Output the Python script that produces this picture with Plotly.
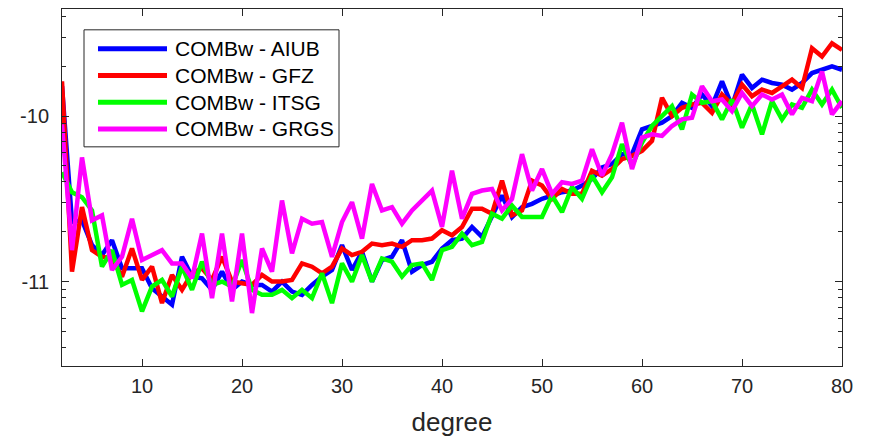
import plotly.graph_objects as go

degree = list(range(2, 81))

# log10 of the plotted quantity (tick labels are exponents)
aiub = [-9.82, -10.64, -10.63, -10.78, -10.84, -10.75, -10.92, -10.92, -10.92, -11.04,
        -11.09, -11.14, -10.85, -10.97, -10.98, -11.05, -10.94, -11.05, -11.00, -11.02,
        -11.02, -11.06, -11.00, -11.06, -11.08, -11.02, -10.97, -10.93, -10.78, -10.93,
        -10.82, -11.00, -10.87, -10.85, -10.75, -10.94, -10.90, -10.88, -10.80, -10.75,
        -10.74, -10.67, -10.73, -10.60, -10.48, -10.61, -10.55, -10.53, -10.50, -10.48,
        -10.46, -10.45, -10.42, -10.38, -10.31, -10.29, -10.23, -10.23, -10.08, -10.06,
        -10.04, -10.00, -9.92, -9.95, -9.87, -9.94, -9.79, -9.94, -9.75, -9.83,
        -9.78, -9.80, -9.81, -9.84, -9.80, -9.74, -9.72, -9.70, -9.72]

gfz = [-9.79, -10.94, -10.55, -10.81, -10.85, -10.86, -10.97, -10.80, -10.99, -10.91,
       -11.13, -10.96, -11.05, -10.95, -10.92, -10.99, -10.85, -11.00, -11.01, -11.02,
       -10.96, -11.00, -11.00, -10.99, -10.89, -10.91, -10.95, -10.91, -10.80, -10.84,
       -10.82, -10.77, -10.78, -10.77, -10.79, -10.75, -10.75, -10.74, -10.69, -10.72,
       -10.67, -10.56, -10.56, -10.59, -10.39, -10.60, -10.57, -10.39, -10.42, -10.50,
       -10.44, -10.47, -10.47, -10.33, -10.36, -10.32, -10.26, -10.24, -10.21, -10.15,
       -9.89, -10.00, -9.95, -9.93, -9.92, -9.98, -9.87, -9.93, -9.81, -9.88,
       -9.84, -9.86, -9.82, -9.78, -9.83, -9.59, -9.64, -9.56, -9.60]

itsg = [-10.34, -10.46, -10.49, -10.57, -10.91, -10.81, -11.02, -10.99, -11.18, -11.03,
        -10.99, -11.09, -10.91, -11.05, -10.88, -11.02, -11.00, -11.03, -10.87, -11.05,
        -11.08, -11.08, -11.05, -11.10, -11.05, -11.10, -10.95, -11.13, -10.89, -11.00,
        -10.84, -11.00, -10.86, -10.88, -10.97, -10.90, -10.89, -10.99, -10.81, -10.79,
        -10.71, -10.78, -10.76, -10.59, -10.62, -10.54, -10.61, -10.61, -10.61, -10.48,
        -10.58, -10.43, -10.50, -10.36, -10.46, -10.37, -10.17, -10.30, -10.16, -10.06,
        -10.00, -9.94, -10.08, -9.87, -9.92, -9.91, -10.02, -9.90, -10.07, -9.93,
        -10.11, -9.91, -10.02, -9.93, -9.95, -9.84, -9.93, -9.84, -9.95]

grgs = [-10.05, -10.81, -10.25, -10.63, -10.60, -10.93, -10.85, -10.62, -10.87, -10.84,
        -10.81, -10.89, -10.89, -10.98, -10.71, -11.10, -10.71, -11.12, -10.71, -11.19,
        -10.80, -10.94, -10.51, -10.83, -10.62, -10.65, -10.64, -10.85, -10.64, -10.52,
        -10.74, -10.41, -10.57, -10.55, -10.65, -10.57, -10.51, -10.45, -10.67, -10.33,
        -10.62, -10.47, -10.45, -10.44, -10.57, -10.50, -10.23, -10.45, -10.32, -10.47,
        -10.40, -10.41, -10.39, -10.20, -10.36, -10.23, -10.04, -10.32, -10.13, -10.11,
        -10.12, -10.06, -10.02, -10.01, -9.82, -9.91, -9.90, -9.97, -9.86, -9.94,
        -9.87, -9.90, -9.87, -9.99, -9.89, -9.91, -9.73, -9.99, -9.91]

names = ["COMBw - AIUB", "COMBw - GFZ", "COMBw - ITSG", "COMBw - GRGS"]
colors = ["#0000FF", "#FF0000", "#00FF00", "#FF00FF"]
series = [aiub, gfz, itsg, grgs]

y_ticks = [1e-11, 1e-10]
y_tick_text = ["-11", "-10"]
x_ticks = [10, 20, 30, 40, 50, 60, 70, 80]

FONT = "Liberation Sans, Arial, sans-serif"
AX = "#262626"

fig = go.Figure()
for name, col, vals in zip(names, colors, series):
    fig.add_trace(go.Scatter(
        x=degree, y=[10 ** v for v in vals], mode="lines", name=name,
        line=dict(color=col, width=4.5), showlegend=False))

minor_vals = [k * 1e-12 for k in range(2, 10)] + [k * 1e-11 for k in range(2, 10)] + \
             [k * 1e-10 for k in range(2, 10)]

W, H = 869, 439
L, R, T, B = 62, 27, 8, 71
pw, ph = W - L - R, H - T - B

fig.update_layout(
    width=W, height=H,
    margin=dict(l=L, r=R, t=T, b=B),
    paper_bgcolor="white", plot_bgcolor="white",
    font=dict(family=FONT, color=AX, size=20),
    xaxis=dict(
        range=[2, 80], tickvals=x_ticks, ticks="inside", ticklen=7, tickwidth=1,
        tickcolor=AX, showline=True, linecolor=AX, linewidth=1, mirror="ticks",
        showgrid=False, zeroline=False, tickfont=dict(size=20, color=AX),
        ticklabelstandoff=2,
        title=dict(text="degree", font=dict(size=26, color=AX), standoff=16),
    ),
    yaxis=dict(
        type="log", range=[-11.51, -9.353], tickvals=y_ticks, ticktext=y_tick_text,
        ticks="inside", ticklen=7, tickwidth=1, tickcolor=AX, showline=True,
        linecolor=AX, linewidth=1, mirror="ticks", showgrid=False, zeroline=False,
        tickfont=dict(size=20, color=AX), ticklabelstandoff=8,
        minor=dict(tickmode="array", tickvals=minor_vals, ticks="inside", ticklen=4,
                   tickwidth=1, tickcolor=AX, showgrid=False),
    ),
)

# legend drawn manually (MATLAB style)
def px(xp):
    return (xp - L) / pw

def py(yp):
    return (H - B - yp) / ph

shapes = [dict(type="rect", xref="paper", yref="paper", x0=px(84), x1=px(339),
               y0=py(147), y1=py(29), line=dict(color=AX, width=1), fillcolor="white",
               layer="above")]
annotations = []
legend_y = [48, 75, 102, 129]
for name, col, ly in zip(names, colors, legend_y):
    shapes.append(dict(type="line", xref="paper", yref="paper", x0=px(98), x1=px(167),
                       y0=py(ly), y1=py(ly), line=dict(color=col, width=5), layer="above"))
    annotations.append(dict(xref="paper", yref="paper", x=px(173), y=py(ly), text=name,
                            showarrow=False, xanchor="left", yanchor="middle",
                            font=dict(family=FONT, size=21, color="black")))
fig.update_layout(shapes=shapes, annotations=annotations)

fig.write_html("out.html")
